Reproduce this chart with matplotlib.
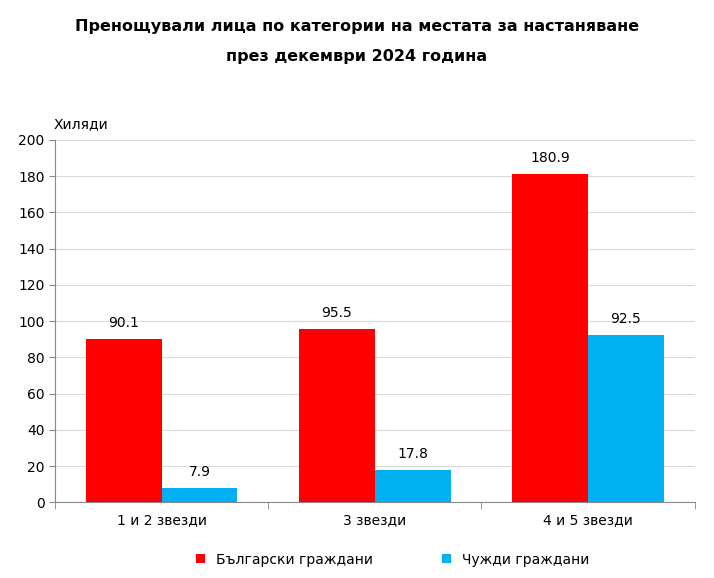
import matplotlib.pyplot as plt
import numpy as np

categories = ["1 и 2 звезди", "3 звезди", "4 и 5 звезди"]
bulgarians = [90.1, 95.5, 180.9]
foreigners = [7.9, 17.8, 92.5]

fig = plt.figure(figsize=(7.14, 5.78), dpi=100)
ax = fig.add_axes([0.077, 0.131, 0.896, 0.627])

x = np.arange(len(categories))
w = 0.355
b1 = ax.bar(x - w / 2, bulgarians, w, color="#FF0000", label="Български граждани", zorder=3)
b2 = ax.bar(x + w / 2, foreigners, w, color="#00B0F0", label="Чужди граждани", zorder=3)
for bars in (b1, b2):
    for r in bars:
        ax.text(r.get_x() + r.get_width() / 2, r.get_height() + 5, f"{r.get_height():.1f}",
                ha="center", va="bottom", fontsize=10)

ax.set_xlim(-0.5, 2.5)
ax.set_ylim(0, 200)
ax.set_yticks(range(0, 201, 20))
ax.set_xticks(x)
ax.set_xticklabels(categories, fontsize=10)
ax.set_xticks([-0.5, 0.5, 1.5, 2.5], minor=True)
ax.tick_params(axis="x", which="major", length=0, pad=8)
ax.tick_params(axis="x", which="minor", length=5, color="#888888")
ax.tick_params(axis="y", labelsize=10, length=4, color="#888888")
ax.grid(axis="y", color="#D9D9D9", zorder=0)
for s in ["top", "right"]:
    ax.spines[s].set_visible(False)
for s in ["left", "bottom"]:
    ax.spines[s].set_color("#888888")

fig.text(0.113, 0.778, "Хиляди", ha="center", fontsize=10)
fig.text(0.5, 0.955, "Пренощували лица по категории на местата за настаняване", ha="center",
         va="center", fontsize=11.5, fontweight="bold")
fig.text(0.5, 0.903, "през декември 2024 година", ha="center", va="center",
         fontsize=11.5, fontweight="bold")

fig.legend(handles=[b1, b2], loc="center", bbox_to_anchor=(0.55, 0.032), ncol=2,
           frameon=False, fontsize=10, handlelength=0.6, handleheight=0.6,
           columnspacing=5)

fig.savefig("out.png", dpi=100)
